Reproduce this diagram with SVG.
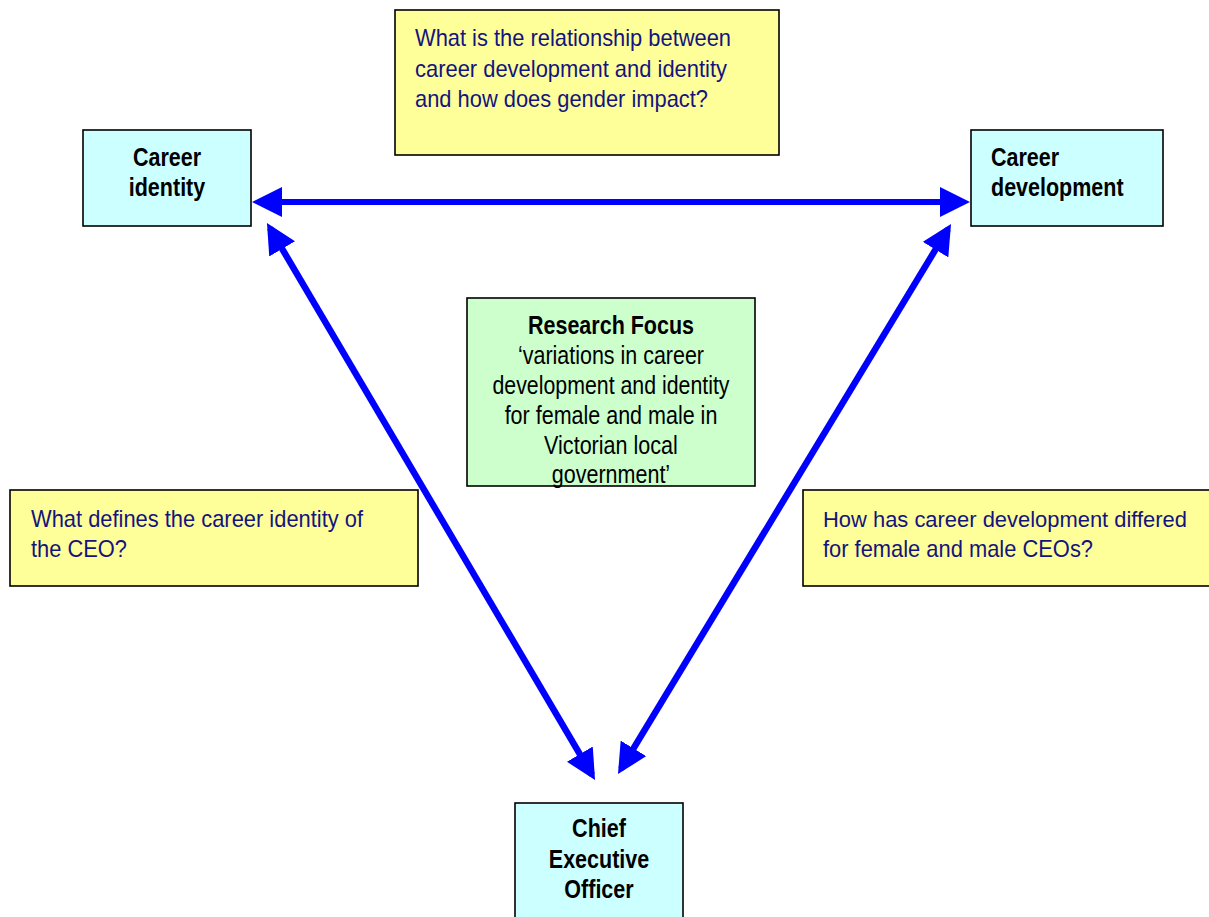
<svg xmlns="http://www.w3.org/2000/svg" width="1209" height="917" viewBox="0 0 1209 917">
<style>
.box{stroke:#000;stroke-width:1.6}
.cy{fill:#CCFFFF}
.ye{fill:#FFFF99}
.gr{fill:#CCFFCC}
.lbl{font-family:"Liberation Sans",Arial,sans-serif;font-size:25px;font-weight:bold;fill:#000}
.q{font-family:"Liberation Sans",Arial,sans-serif;font-size:24px;fill:#14147f}
.rf{font-family:"Liberation Sans",Arial,sans-serif;font-size:25px;fill:#000;text-anchor:middle}
.c{text-anchor:middle}
.arr{stroke:#0000FF;stroke-width:6;fill:none;marker-start:url(#ah);marker-end:url(#ah)}
</style>
<defs>
<marker id="ah" markerUnits="userSpaceOnUse" markerWidth="30" markerHeight="30" viewBox="0 0 30 30" refX="24" refY="15" orient="auto-start-reverse">
<path d="M0,0 L30,15 L0,30 z" fill="#0000FF"/>
</marker>
</defs>
<rect width="1209" height="917" fill="#fff"/>
<g id="connectors">
<line class="arr" x1="258" y1="202" x2="964" y2="202"/>
<line class="arr" x1="270" y1="228.2" x2="592" y2="774.8" style="stroke-width:6.5"/>
<line class="arr" x1="947.9" y1="229.1" x2="621.1" y2="768.9" style="stroke-width:6.5"/>
</g>
<g id="q-relationship">
<rect class="box ye" x="395" y="10" width="384" height="145"/>
<text class="q" x="415" y="46" textLength="316" lengthAdjust="spacingAndGlyphs">What is the relationship between</text>
<text class="q" x="415" y="77" textLength="312" lengthAdjust="spacingAndGlyphs">career development and identity</text>
<text class="q" x="415" y="107" textLength="293" lengthAdjust="spacingAndGlyphs">and how does gender impact?</text>
</g>
<g id="career-identity">
<rect class="box cy" x="83" y="130" width="168" height="96"/>
<text class="lbl c" x="167" y="166" textLength="68" lengthAdjust="spacingAndGlyphs">Career</text>
<text class="lbl c" x="167" y="196" textLength="76.5" lengthAdjust="spacingAndGlyphs">identity</text>
</g>
<g id="career-development">
<rect class="box cy" x="971" y="130" width="192" height="96"/>
<text class="lbl" x="991" y="166" textLength="68" lengthAdjust="spacingAndGlyphs">Career</text>
<text class="lbl" x="991" y="196" textLength="132.6" lengthAdjust="spacingAndGlyphs">development</text>
</g>
<g id="research-focus">
<rect class="box gr" x="467" y="298" width="288" height="188"/>
<text class="rf" x="611" y="334" font-weight="bold" textLength="166" lengthAdjust="spacingAndGlyphs">Research Focus</text>
<text class="rf" x="611" y="364" textLength="186" lengthAdjust="spacingAndGlyphs">‘variations in career</text>
<text class="rf" x="611" y="394" textLength="237" lengthAdjust="spacingAndGlyphs">development and identity</text>
<text class="rf" x="611" y="424" textLength="212.7" lengthAdjust="spacingAndGlyphs">for female and male in</text>
<text class="rf" x="611" y="454" textLength="133.8" lengthAdjust="spacingAndGlyphs">Victorian local</text>
<text class="rf" x="611" y="483" textLength="118.3" lengthAdjust="spacingAndGlyphs">government’</text>
</g>
<g id="q-identity">
<rect class="box ye" x="10" y="490" width="408" height="96"/>
<text class="q" x="31" y="527" textLength="332" lengthAdjust="spacingAndGlyphs">What defines the career identity of</text>
<text class="q" x="31" y="557" textLength="96" lengthAdjust="spacingAndGlyphs">the CEO?</text>
</g>
<g id="q-development">
<rect class="box ye" x="803" y="490" width="410" height="96"/>
<text class="q" x="823" y="527" font-size="22.5" style="font-size:22.5px" textLength="364" lengthAdjust="spacingAndGlyphs">How has career development differed</text>
<text class="q" x="823" y="557" textLength="270" lengthAdjust="spacingAndGlyphs">for female and male CEOs?</text>
</g>
<g id="ceo">
<rect class="box cy" x="515" y="803" width="168" height="120"/>
<text class="lbl c" x="599" y="837" textLength="53.8" lengthAdjust="spacingAndGlyphs">Chief</text>
<text class="lbl c" x="599" y="868" textLength="100.4" lengthAdjust="spacingAndGlyphs">Executive</text>
<text class="lbl c" x="599" y="898" textLength="69.3" lengthAdjust="spacingAndGlyphs">Officer</text>
</g>
</svg>
